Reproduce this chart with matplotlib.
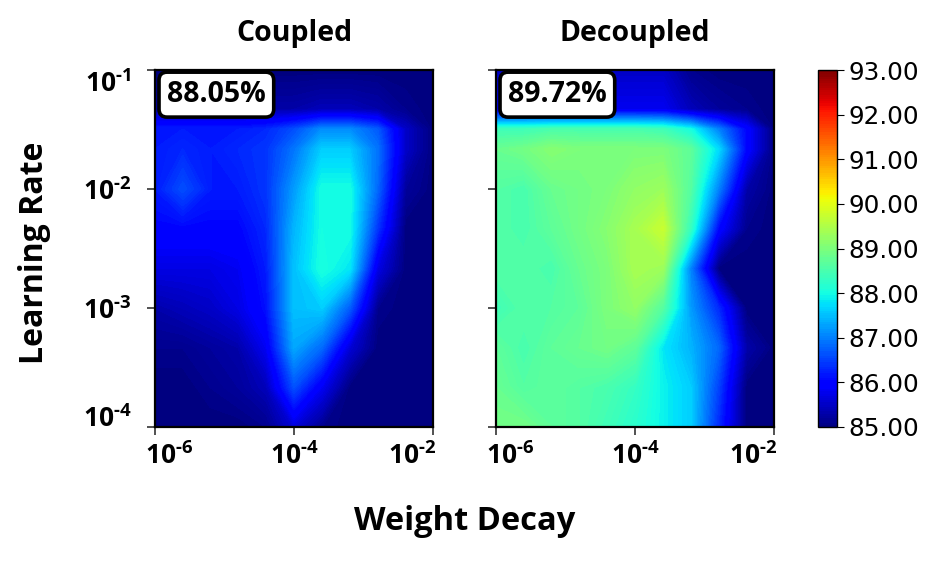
import numpy as np
import matplotlib
matplotlib.use('Agg')
import matplotlib.pyplot as plt
import matplotlib.transforms as mtrans

# grid exponents (log10) of weight decay (x) and learning rate (y)
wd_exp = [-6.0, -5.6, -5.2, -4.8, -4.4, -4.0, -3.6, -3.2, -2.8, -2.4, -2.0]
lr_exp = [-4.0, -3.667, -3.333, -3.0, -2.667, -2.333, -2.0, -1.667, -1.5, -1.333, -1.0]

# test accuracy, rows from lr=1e-4 (bottom) to lr=1e-1 (top)
acc_coupled = [
    [85.0, 85.0, 85.0, 85.0, 85.1, 85.6, 85.1, 85.0, 85.0, 85.0, 85.0],
    [85.0, 85.0, 85.1, 85.2, 85.4, 86.6, 85.8, 85.0, 85.0, 85.0, 85.0],
    [85.1, 85.1, 85.2, 85.3, 85.8, 87.3, 86.8, 85.6, 85.0, 85.0, 85.0],
    [85.3, 85.4, 85.5, 85.7, 86.1, 87.5, 87.6, 86.7, 85.1, 85.0, 85.0],
    [85.7, 85.7, 85.7, 85.8, 86.2, 87.5, 88.05, 87.8, 85.7, 85.0, 85.0],
    [86.0, 86.0, 86.0, 86.0, 86.3, 87.4, 88.0, 88.0, 86.4, 85.0, 85.0],
    [86.2, 86.6, 86.2, 86.2, 86.4, 87.2, 88.0, 88.0, 86.8, 85.2, 85.0],
    [86.2, 86.3, 86.2, 86.3, 86.4, 86.9, 87.6, 87.6, 86.9, 85.5, 85.0],
    [86.2, 86.2, 86.2, 86.2, 86.3, 86.6, 87.1, 87.1, 86.7, 85.5, 85.0],
    [85.3, 85.3, 85.3, 85.3, 85.3, 85.3, 85.4, 85.4, 85.3, 85.1, 85.0],
    [85.0, 85.0, 85.0, 85.0, 85.0, 85.0, 85.0, 85.0, 85.0, 85.0, 85.0],
]
acc_decoupled = [
    [88.9, 88.9, 88.7, 88.6, 88.4, 88.2, 87.9, 87.6, 86.3, 85.0, 85.0],
    [88.8, 88.6, 88.7, 88.6, 88.5, 88.3, 87.9, 87.6, 86.5, 85.0, 85.0],
    [88.7, 88.5, 88.7, 88.8, 88.9, 88.7, 87.8, 87.4, 86.8, 85.3, 85.0],
    [88.4, 88.6, 88.6, 88.7, 89.0, 89.2, 88.6, 87.2, 86.3, 85.0, 85.0],
    [88.6, 88.6, 88.5, 88.8, 89.0, 89.4, 89.3, 87.0, 85.0, 85.0, 85.0],
    [88.6, 88.5, 88.7, 88.9, 89.1, 89.4, 89.72, 88.3, 86.0, 85.1, 85.0],
    [88.6, 88.5, 88.8, 88.9, 89.0, 89.2, 89.3, 88.6, 87.0, 85.3, 85.0],
    [88.8, 88.9, 89.1, 89.0, 89.0, 89.0, 89.0, 88.7, 87.7, 86.0, 85.0],
    [88.4, 88.4, 88.5, 88.5, 88.5, 88.5, 88.4, 88.0, 87.0, 86.0, 85.0],
    [85.8, 85.8, 85.8, 85.8, 85.8, 85.8, 85.8, 85.4, 85.2, 85.1, 85.0],
    [85.5, 85.5, 85.5, 85.5, 85.5, 85.5, 85.5, 85.1, 85.0, 85.0, 85.0],
]
titles = ['Coupled', 'Decoupled']
best = ['88.05%', '89.72%']
x_ticks = [-6, -4, -2]
y_ticks = [-4, -3, -2, -1]
cbar_ticks = [85, 86, 87, 88, 89, 90, 91, 92, 93]

plt.rcParams['font.family'] = 'Open Sans'
plt.rcParams['font.weight'] = 'bold'
plt.rcParams['mathtext.fontset'] = 'custom'
plt.rcParams['mathtext.rm'] = 'Open Sans:bold'
plt.rcParams['mathtext.it'] = 'Open Sans:bold'
plt.rcParams['mathtext.bf'] = 'Open Sans:bold'


def exp_label(t):
    return r'$10^{\text{-}%d}$' % abs(t)


fig = plt.figure(figsize=(9.4, 5.61), dpi=100)
ax_pos = [[155 / 940, 134 / 561, 278 / 940, 357 / 561],
          [496 / 940, 134 / 561, 278 / 940, 357 / 561]]
levels = np.linspace(85, 93, 161)
X, Y = np.meshgrid(wd_exp, lr_exp)

for i, data in enumerate([acc_coupled, acc_decoupled]):
    ax = fig.add_axes(ax_pos[i])
    cs = ax.contourf(X, Y, np.array(data), levels=levels, cmap='jet',
                     vmin=85, vmax=93)
    # hide the thin light seams between the many filled bands
    cs.set_edgecolor('face')
    cs.set_linewidth(0.6)
    ax.set_xlim(-6, -2)
    ax.set_ylim(-4, -1)
    ax.set_xticks(x_ticks)
    ax.set_xticklabels([exp_label(t) for t in x_ticks])
    ax.set_yticks(y_ticks)
    ax.tick_params(axis='x', labelsize=19, length=6, width=1.2, color='#333333', pad=5)
    ax.tick_params(axis='y', labelsize=19, length=6, width=1.2, color='#333333', pad=11)
    if i == 0:
        ax.set_yticklabels([exp_label(t) for t in y_ticks])
        ylabs = ax.get_yticklabels()
        ylabs[0].set_va('baseline')
        ylabs[-1].set_va('top')
    else:
        ax.set_yticklabels([])
    xlabs = ax.get_xticklabels()
    xlabs[0].set_ha('left')
    xlabs[0].set_transform(xlabs[0].get_transform() +
                           mtrans.ScaledTranslation(-0.10, 0, fig.dpi_scale_trans))
    xlabs[-1].set_ha('right')
    xlabs[-1].set_transform(xlabs[-1].get_transform() +
                            mtrans.ScaledTranslation(0.03, 0, fig.dpi_scale_trans))
    for s in ax.spines.values():
        s.set_linewidth(1.6)
    ax.set_title(titles[i], fontsize=20.5, fontweight='bold', pad=21)
    ax.text(12 / 278, 0.931, best[i], transform=ax.transAxes, fontsize=20.5,
            fontweight='bold', ha='left', va='center',
            bbox=dict(boxstyle='round,pad=0.28', fc='white', ec='black', lw=2.6))

cax = fig.add_axes([818 / 940, 134 / 561, 19 / 940, 357 / 561])
cb = fig.colorbar(cs, cax=cax, ticks=cbar_ticks, format='%.2f')
cb.outline.set_linewidth(1.0)
cax.tick_params(labelsize=17.8, length=5)
for lab in cax.get_yticklabels():
    lab.set_fontfamily('DejaVu Sans')
    lab.set_fontweight('normal')

fig.text(465 / 940, 1 - 522 / 561, 'Weight Decay', fontsize=23.5, fontweight='bold',
         ha='center', va='center')
fig.text(35 / 940, 1 - 253 / 561, 'Learning Rate', fontsize=23, fontweight='bold',
         ha='center', va='center', rotation=90)

fig.savefig('out.png', dpi=100)
